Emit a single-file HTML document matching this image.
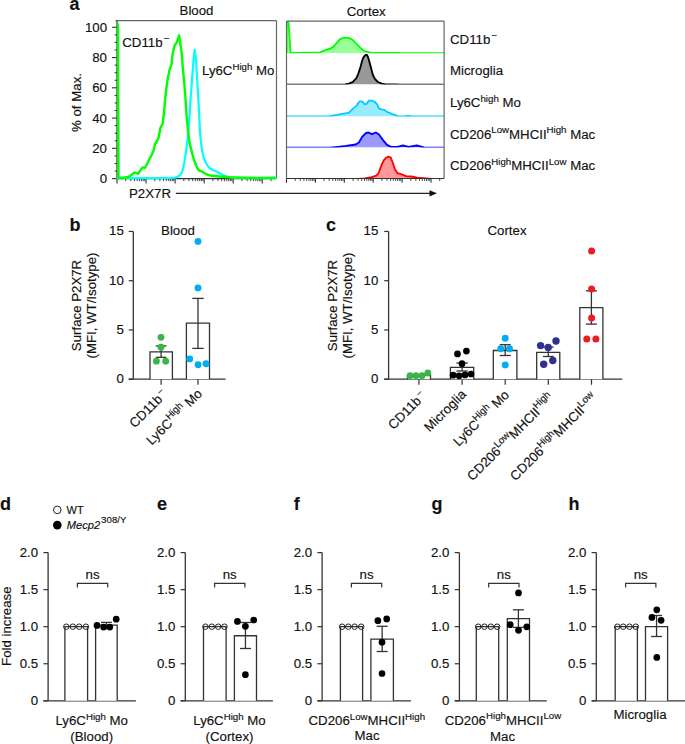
<!DOCTYPE html>
<html><head><meta charset="utf-8"><style>
html,body{margin:0;padding:0;background:#fff;width:685px;height:744px;overflow:hidden;}
svg{display:block;font-family:"Liberation Sans", sans-serif;}
text{fill:#111;stroke:#111;stroke-width:0.15px;}
</style></head><body>
<svg width="685" height="744" viewBox="0 0 685 744" font-family='"Liberation Sans", sans-serif' fill="#111"><text x="69.60" y="10.20" font-size="18" text-anchor="start" font-weight="bold" >a</text>
<line x1="115.50" y1="20.60" x2="276.50" y2="20.60" stroke="#666" stroke-width="1.2" />
<line x1="276.50" y1="20.60" x2="276.50" y2="178.60" stroke="#666" stroke-width="1.2" />
<line x1="117.00" y1="20.60" x2="117.00" y2="178.60" stroke="#333" stroke-width="1.2" />
<line x1="117.00" y1="178.60" x2="276.50" y2="178.60" stroke="#333" stroke-width="1.2" />
<line x1="112.00" y1="178.60" x2="117.00" y2="178.60" stroke="#333" stroke-width="1.1" />
<text x="107.00" y="183.20" font-size="13.25" text-anchor="end" font-weight="normal" >0</text>
<line x1="112.00" y1="148.34" x2="117.00" y2="148.34" stroke="#333" stroke-width="1.1" />
<text x="107.00" y="152.94" font-size="13.25" text-anchor="end" font-weight="normal" >20</text>
<line x1="112.00" y1="118.08" x2="117.00" y2="118.08" stroke="#333" stroke-width="1.1" />
<text x="107.00" y="122.68" font-size="13.25" text-anchor="end" font-weight="normal" >40</text>
<line x1="112.00" y1="87.82" x2="117.00" y2="87.82" stroke="#333" stroke-width="1.1" />
<text x="107.00" y="92.42" font-size="13.25" text-anchor="end" font-weight="normal" >60</text>
<line x1="112.00" y1="57.56" x2="117.00" y2="57.56" stroke="#333" stroke-width="1.1" />
<text x="107.00" y="62.16" font-size="13.25" text-anchor="end" font-weight="normal" >80</text>
<line x1="112.00" y1="27.30" x2="117.00" y2="27.30" stroke="#333" stroke-width="1.1" />
<text x="107.00" y="31.90" font-size="13.25" text-anchor="end" font-weight="normal" >100</text>
<line x1="114.60" y1="171.03" x2="117.00" y2="171.03" stroke="#333" stroke-width="1" />
<line x1="114.60" y1="163.47" x2="117.00" y2="163.47" stroke="#333" stroke-width="1" />
<line x1="114.60" y1="155.91" x2="117.00" y2="155.91" stroke="#333" stroke-width="1" />
<line x1="114.60" y1="140.78" x2="117.00" y2="140.78" stroke="#333" stroke-width="1" />
<line x1="114.60" y1="133.21" x2="117.00" y2="133.21" stroke="#333" stroke-width="1" />
<line x1="114.60" y1="125.64" x2="117.00" y2="125.64" stroke="#333" stroke-width="1" />
<line x1="114.60" y1="110.52" x2="117.00" y2="110.52" stroke="#333" stroke-width="1" />
<line x1="114.60" y1="102.95" x2="117.00" y2="102.95" stroke="#333" stroke-width="1" />
<line x1="114.60" y1="95.39" x2="117.00" y2="95.39" stroke="#333" stroke-width="1" />
<line x1="114.60" y1="80.25" x2="117.00" y2="80.25" stroke="#333" stroke-width="1" />
<line x1="114.60" y1="72.69" x2="117.00" y2="72.69" stroke="#333" stroke-width="1" />
<line x1="114.60" y1="65.12" x2="117.00" y2="65.12" stroke="#333" stroke-width="1" />
<line x1="114.60" y1="50.00" x2="117.00" y2="50.00" stroke="#333" stroke-width="1" />
<line x1="114.60" y1="42.43" x2="117.00" y2="42.43" stroke="#333" stroke-width="1" />
<line x1="114.60" y1="34.87" x2="117.00" y2="34.87" stroke="#333" stroke-width="1" />
<line x1="117.00" y1="178.60" x2="117.00" y2="183.40" stroke="#333" stroke-width="1.1" />
<line x1="125.74" y1="178.60" x2="125.74" y2="181.20" stroke="#333" stroke-width="0.9" />
<line x1="130.86" y1="178.60" x2="130.86" y2="181.20" stroke="#333" stroke-width="0.9" />
<line x1="134.49" y1="178.60" x2="134.49" y2="181.20" stroke="#333" stroke-width="0.9" />
<line x1="137.31" y1="178.60" x2="137.31" y2="181.20" stroke="#333" stroke-width="0.9" />
<line x1="139.61" y1="178.60" x2="139.61" y2="181.20" stroke="#333" stroke-width="0.9" />
<line x1="141.55" y1="178.60" x2="141.55" y2="181.20" stroke="#333" stroke-width="0.9" />
<line x1="143.23" y1="178.60" x2="143.23" y2="181.20" stroke="#333" stroke-width="0.9" />
<line x1="144.72" y1="178.60" x2="144.72" y2="181.20" stroke="#333" stroke-width="0.9" />
<line x1="146.05" y1="178.60" x2="146.05" y2="183.40" stroke="#333" stroke-width="1.1" />
<line x1="154.79" y1="178.60" x2="154.79" y2="181.20" stroke="#333" stroke-width="0.9" />
<line x1="159.91" y1="178.60" x2="159.91" y2="181.20" stroke="#333" stroke-width="0.9" />
<line x1="163.54" y1="178.60" x2="163.54" y2="181.20" stroke="#333" stroke-width="0.9" />
<line x1="166.36" y1="178.60" x2="166.36" y2="181.20" stroke="#333" stroke-width="0.9" />
<line x1="168.66" y1="178.60" x2="168.66" y2="181.20" stroke="#333" stroke-width="0.9" />
<line x1="170.60" y1="178.60" x2="170.60" y2="181.20" stroke="#333" stroke-width="0.9" />
<line x1="172.28" y1="178.60" x2="172.28" y2="181.20" stroke="#333" stroke-width="0.9" />
<line x1="173.77" y1="178.60" x2="173.77" y2="181.20" stroke="#333" stroke-width="0.9" />
<line x1="175.10" y1="178.60" x2="175.10" y2="183.40" stroke="#333" stroke-width="1.1" />
<line x1="183.84" y1="178.60" x2="183.84" y2="181.20" stroke="#333" stroke-width="0.9" />
<line x1="188.96" y1="178.60" x2="188.96" y2="181.20" stroke="#333" stroke-width="0.9" />
<line x1="192.59" y1="178.60" x2="192.59" y2="181.20" stroke="#333" stroke-width="0.9" />
<line x1="195.41" y1="178.60" x2="195.41" y2="181.20" stroke="#333" stroke-width="0.9" />
<line x1="197.71" y1="178.60" x2="197.71" y2="181.20" stroke="#333" stroke-width="0.9" />
<line x1="199.65" y1="178.60" x2="199.65" y2="181.20" stroke="#333" stroke-width="0.9" />
<line x1="201.33" y1="178.60" x2="201.33" y2="181.20" stroke="#333" stroke-width="0.9" />
<line x1="202.82" y1="178.60" x2="202.82" y2="181.20" stroke="#333" stroke-width="0.9" />
<line x1="204.15" y1="178.60" x2="204.15" y2="183.40" stroke="#333" stroke-width="1.1" />
<line x1="212.89" y1="178.60" x2="212.89" y2="181.20" stroke="#333" stroke-width="0.9" />
<line x1="218.01" y1="178.60" x2="218.01" y2="181.20" stroke="#333" stroke-width="0.9" />
<line x1="221.64" y1="178.60" x2="221.64" y2="181.20" stroke="#333" stroke-width="0.9" />
<line x1="224.46" y1="178.60" x2="224.46" y2="181.20" stroke="#333" stroke-width="0.9" />
<line x1="226.76" y1="178.60" x2="226.76" y2="181.20" stroke="#333" stroke-width="0.9" />
<line x1="228.70" y1="178.60" x2="228.70" y2="181.20" stroke="#333" stroke-width="0.9" />
<line x1="230.38" y1="178.60" x2="230.38" y2="181.20" stroke="#333" stroke-width="0.9" />
<line x1="231.87" y1="178.60" x2="231.87" y2="181.20" stroke="#333" stroke-width="0.9" />
<line x1="233.20" y1="178.60" x2="233.20" y2="183.40" stroke="#333" stroke-width="1.1" />
<line x1="241.94" y1="178.60" x2="241.94" y2="181.20" stroke="#333" stroke-width="0.9" />
<line x1="247.06" y1="178.60" x2="247.06" y2="181.20" stroke="#333" stroke-width="0.9" />
<line x1="250.69" y1="178.60" x2="250.69" y2="181.20" stroke="#333" stroke-width="0.9" />
<line x1="253.51" y1="178.60" x2="253.51" y2="181.20" stroke="#333" stroke-width="0.9" />
<line x1="255.81" y1="178.60" x2="255.81" y2="181.20" stroke="#333" stroke-width="0.9" />
<line x1="257.75" y1="178.60" x2="257.75" y2="181.20" stroke="#333" stroke-width="0.9" />
<line x1="259.43" y1="178.60" x2="259.43" y2="181.20" stroke="#333" stroke-width="0.9" />
<line x1="260.92" y1="178.60" x2="260.92" y2="181.20" stroke="#333" stroke-width="0.9" />
<line x1="262.25" y1="178.60" x2="262.25" y2="183.40" stroke="#333" stroke-width="1.1" />
<line x1="270.99" y1="178.60" x2="270.99" y2="181.20" stroke="#333" stroke-width="0.9" />
<text x="81.3" y="102.5" font-size="13.25" text-anchor="middle" transform="rotate(-90 81.3 102.5)">% of Max.</text>
<text x="196.50" y="15.40" font-size="13.25" text-anchor="middle" font-weight="normal" >Blood</text>
<text x="122.30" y="46.50" font-size="13.25" text-anchor="start" font-weight="normal" >CD11b<tspan font-size="9.7" dy="-4.8" dx="1.2">&#8722;</tspan></text>
<text x="202.00" y="75.40" font-size="13.25" text-anchor="start" font-weight="normal" >Ly6C<tspan font-size="9.7" dy="-5.5">High</tspan><tspan dy="5.5"> Mo</tspan></text>
<text x="129.00" y="197.80" font-size="13.25" text-anchor="start" font-weight="normal" >P2X7R</text>
<line x1="175.80" y1="193.30" x2="430.00" y2="193.30" stroke="#222" stroke-width="1.2" />
<path d="M429.5,190.2 L437,193.3 L429.5,196.4 Z" fill="#111"/>
<path d="M117.50,178.20 L160.00,178.20 L170.00,178.00 L175.00,177.60 L178.00,176.60 L180.00,175.00 L182.00,172.40 L183.50,167.00 L185.00,158.40 L186.50,148.00 L188.20,135.00 L189.60,115.00 L190.50,100.00 L192.00,80.00 L193.50,60.00 L194.70,49.80 L196.00,60.00 L197.20,80.00 L198.40,100.00 L199.20,115.00 L200.20,135.00 L201.30,145.00 L202.50,152.60 L204.00,158.50 L206.00,163.00 L209.00,167.50 L212.40,170.00 L217.10,171.80 L220.00,173.50 L224.00,175.50 L228.00,177.00 L235.00,177.80 L250.00,178.20 L276.00,178.20" stroke="#00ffff" stroke-width="2.2" fill="none" stroke-linejoin="round" stroke-linecap="round" />
<path d="M118.00,24.50 L118.50,177.50 L122.00,178.00 L127.00,177.30 L130.00,176.00 L132.00,174.50 L134.00,172.60 L136.00,173.00 L138.00,173.80 L140.00,171.00 L142.50,167.40 L145.00,167.80 L147.80,162.50 L150.00,158.00 L151.60,155.00 L153.80,150.00 L155.00,144.00 L156.50,142.00 L158.50,138.00 L160.40,128.00 L162.80,123.40 L164.00,112.00 L165.10,100.00 L166.20,90.00 L167.40,80.70 L169.50,70.00 L171.50,64.40 L172.50,55.00 L174.50,45.70 L177.00,42.00 L179.10,35.30 L180.30,43.40 L182.00,55.00 L182.50,64.00 L184.00,80.00 L185.60,100.00 L186.50,115.00 L188.50,135.00 L190.00,145.00 L192.00,152.60 L194.00,160.00 L197.20,167.80 L199.00,170.50 L201.90,171.30 L204.00,173.00 L207.80,174.80 L212.00,175.80 L219.40,176.50 L230.00,177.30 L245.00,177.80 L260.00,178.00 L275.00,177.60" stroke="#00ff00" stroke-width="2.4" fill="none" stroke-linejoin="round" stroke-linecap="round" />
<defs><clipPath id="row0"><rect x="286.5" y="21.10" width="157.60" height="32.10"/></clipPath><clipPath id="row1"><rect x="286.5" y="53.20" width="157.60" height="31.35"/></clipPath><clipPath id="row2"><rect x="286.5" y="84.55" width="157.60" height="31.95"/></clipPath><clipPath id="row3"><rect x="286.5" y="116.50" width="157.60" height="31.05"/></clipPath><clipPath id="row4"><rect x="286.5" y="147.55" width="157.60" height="31.45"/></clipPath></defs>
<g clip-path="url(#row0)"><path d="M286.50,53.20 L286.50,21.80 L288.50,22.30 L290.60,52.95 L309.00,52.70 L319.50,52.60 L323.40,50.90 L330.00,48.60 L333.30,46.90 L336.60,43.00 L339.80,39.40 L343.10,37.90 L349.00,37.90 L352.30,39.70 L356.30,43.60 L360.20,47.60 L364.10,50.90 L369.40,52.40 L373.00,52.95 L399.00,52.95 L401.00,53.20 L444.10,53.20 L444.10,53.20 Z" fill="#99ff99" stroke="none"/><path d="M286.50,53.20 L286.50,21.80 L288.50,22.30 L290.60,52.95 L309.00,52.70 L319.50,52.60 L323.40,50.90 L330.00,48.60 L333.30,46.90 L336.60,43.00 L339.80,39.40 L343.10,37.90 L349.00,37.90 L352.30,39.70 L356.30,43.60 L360.20,47.60 L364.10,50.90 L369.40,52.40 L373.00,52.95 L399.00,52.95 L401.00,53.20 L444.10,53.20 L444.10,53.20" fill="none" stroke="#00ff00" stroke-width="1.85" stroke-linejoin="round"/></g>
<g clip-path="url(#row1)"><path d="M286.50,84.55 L340.00,84.55 L345.00,84.40 L348.90,83.60 L352.90,81.90 L356.20,78.40 L358.10,74.30 L360.10,68.40 L361.80,61.90 L363.40,57.30 L365.40,55.00 L367.00,55.00 L368.30,57.90 L369.60,62.50 L371.30,69.10 L372.90,75.00 L374.90,78.90 L377.90,82.00 L381.80,83.70 L385.70,84.30 L395.00,84.50 L400.00,84.55 L444.10,84.55 Z" fill="#999999" stroke="none"/><path d="M286.50,84.55 L340.00,84.55 L345.00,84.40 L348.90,83.60 L352.90,81.90 L356.20,78.40 L358.10,74.30 L360.10,68.40 L361.80,61.90 L363.40,57.30 L365.40,55.00 L367.00,55.00 L368.30,57.90 L369.60,62.50 L371.30,69.10 L372.90,75.00 L374.90,78.90 L377.90,82.00 L381.80,83.70 L385.70,84.30 L395.00,84.50 L400.00,84.55 L444.10,84.55" fill="none" stroke="#000" stroke-width="1.85" stroke-linejoin="round"/></g>
<g clip-path="url(#row2)"><path d="M286.50,116.50 L325.00,116.50 L330.00,116.20 L337.00,114.90 L345.20,113.30 L348.70,112.90 L353.40,108.40 L356.30,106.10 L358.60,102.60 L359.80,101.40 L362.10,101.40 L364.50,104.10 L366.20,104.10 L369.10,100.60 L372.00,100.60 L375.00,102.00 L376.70,103.80 L379.00,108.40 L381.40,109.30 L383.70,109.60 L387.20,112.00 L391.90,113.90 L397.70,116.20 L403.00,116.50 L408.00,115.80 L413.00,116.50 L444.10,116.50 Z" fill="#99ebff" stroke="none"/><path d="M286.50,116.50 L325.00,116.50 L330.00,116.20 L337.00,114.90 L345.20,113.30 L348.70,112.90 L353.40,108.40 L356.30,106.10 L358.60,102.60 L359.80,101.40 L362.10,101.40 L364.50,104.10 L366.20,104.10 L369.10,100.60 L372.00,100.60 L375.00,102.00 L376.70,103.80 L379.00,108.40 L381.40,109.30 L383.70,109.60 L387.20,112.00 L391.90,113.90 L397.70,116.20 L403.00,116.50 L408.00,115.80 L413.00,116.50 L444.10,116.50" fill="none" stroke="#00ccff" stroke-width="1.85" stroke-linejoin="round"/></g>
<g clip-path="url(#row3)"><path d="M286.50,147.55 L325.00,147.55 L330.00,147.60 L338.00,146.80 L346.00,145.90 L355.70,144.50 L358.90,142.50 L362.10,136.90 L366.10,132.80 L368.50,132.50 L371.80,134.10 L375.80,132.50 L379.00,134.50 L383.00,140.10 L387.00,144.90 L391.00,146.80 L397.40,146.80 L403.00,145.50 L408.70,146.80 L416.70,145.50 L424.70,147.60 L428.00,147.55 L444.10,147.55 Z" fill="#9999ff" stroke="none"/><path d="M286.50,147.55 L325.00,147.55 L330.00,147.60 L338.00,146.80 L346.00,145.90 L355.70,144.50 L358.90,142.50 L362.10,136.90 L366.10,132.80 L368.50,132.50 L371.80,134.10 L375.80,132.50 L379.00,134.50 L383.00,140.10 L387.00,144.90 L391.00,146.80 L397.40,146.80 L403.00,145.50 L408.70,146.80 L416.70,145.50 L424.70,147.60 L428.00,147.55 L444.10,147.55" fill="none" stroke="#0000ff" stroke-width="1.85" stroke-linejoin="round"/></g>
<g clip-path="url(#row4)"><path d="M286.50,179.00 L358.00,179.00 L364.70,178.40 L371.70,177.20 L376.40,175.60 L378.70,173.00 L381.60,164.90 L383.90,160.20 L386.00,157.80 L388.00,156.70 L390.60,157.30 L392.70,162.50 L395.00,169.50 L397.40,173.00 L400.90,174.20 L406.70,176.30 L411.40,176.50 L417.20,177.70 L426.60,178.40 L432.00,179.00 L444.10,179.00 Z" fill="#ff9999" stroke="none"/><path d="M286.50,179.00 L358.00,179.00 L364.70,178.40 L371.70,177.20 L376.40,175.60 L378.70,173.00 L381.60,164.90 L383.90,160.20 L386.00,157.80 L388.00,156.70 L390.60,157.30 L392.70,162.50 L395.00,169.50 L397.40,173.00 L400.90,174.20 L406.70,176.30 L411.40,176.50 L417.20,177.70 L426.60,178.40 L432.00,179.00 L444.10,179.00" fill="none" stroke="#ff0000" stroke-width="1.85" stroke-linejoin="round"/></g>
<line x1="286.50" y1="21.10" x2="444.10" y2="21.10" stroke="#666" stroke-width="1.2" />
<line x1="444.10" y1="21.10" x2="444.10" y2="178.50" stroke="#666" stroke-width="1.2" />
<line x1="286.50" y1="21.10" x2="286.50" y2="178.50" stroke="#666" stroke-width="1.2" />
<line x1="286.50" y1="178.50" x2="444.10" y2="178.50" stroke="#333" stroke-width="1.2" />
<line x1="286.50" y1="178.50" x2="286.50" y2="182.80" stroke="#333" stroke-width="1.1" />
<line x1="295.20" y1="178.50" x2="295.20" y2="180.90" stroke="#333" stroke-width="0.9" />
<line x1="300.29" y1="178.50" x2="300.29" y2="180.90" stroke="#333" stroke-width="0.9" />
<line x1="303.90" y1="178.50" x2="303.90" y2="180.90" stroke="#333" stroke-width="0.9" />
<line x1="306.70" y1="178.50" x2="306.70" y2="180.90" stroke="#333" stroke-width="0.9" />
<line x1="308.99" y1="178.50" x2="308.99" y2="180.90" stroke="#333" stroke-width="0.9" />
<line x1="310.92" y1="178.50" x2="310.92" y2="180.90" stroke="#333" stroke-width="0.9" />
<line x1="312.60" y1="178.50" x2="312.60" y2="180.90" stroke="#333" stroke-width="0.9" />
<line x1="314.08" y1="178.50" x2="314.08" y2="180.90" stroke="#333" stroke-width="0.9" />
<line x1="315.40" y1="178.50" x2="315.40" y2="182.80" stroke="#333" stroke-width="1.1" />
<line x1="324.10" y1="178.50" x2="324.10" y2="180.90" stroke="#333" stroke-width="0.9" />
<line x1="329.19" y1="178.50" x2="329.19" y2="180.90" stroke="#333" stroke-width="0.9" />
<line x1="332.80" y1="178.50" x2="332.80" y2="180.90" stroke="#333" stroke-width="0.9" />
<line x1="335.60" y1="178.50" x2="335.60" y2="180.90" stroke="#333" stroke-width="0.9" />
<line x1="337.89" y1="178.50" x2="337.89" y2="180.90" stroke="#333" stroke-width="0.9" />
<line x1="339.82" y1="178.50" x2="339.82" y2="180.90" stroke="#333" stroke-width="0.9" />
<line x1="341.50" y1="178.50" x2="341.50" y2="180.90" stroke="#333" stroke-width="0.9" />
<line x1="342.98" y1="178.50" x2="342.98" y2="180.90" stroke="#333" stroke-width="0.9" />
<line x1="344.30" y1="178.50" x2="344.30" y2="182.80" stroke="#333" stroke-width="1.1" />
<line x1="353.00" y1="178.50" x2="353.00" y2="180.90" stroke="#333" stroke-width="0.9" />
<line x1="358.09" y1="178.50" x2="358.09" y2="180.90" stroke="#333" stroke-width="0.9" />
<line x1="361.70" y1="178.50" x2="361.70" y2="180.90" stroke="#333" stroke-width="0.9" />
<line x1="364.50" y1="178.50" x2="364.50" y2="180.90" stroke="#333" stroke-width="0.9" />
<line x1="366.79" y1="178.50" x2="366.79" y2="180.90" stroke="#333" stroke-width="0.9" />
<line x1="368.72" y1="178.50" x2="368.72" y2="180.90" stroke="#333" stroke-width="0.9" />
<line x1="370.40" y1="178.50" x2="370.40" y2="180.90" stroke="#333" stroke-width="0.9" />
<line x1="371.88" y1="178.50" x2="371.88" y2="180.90" stroke="#333" stroke-width="0.9" />
<line x1="373.20" y1="178.50" x2="373.20" y2="182.80" stroke="#333" stroke-width="1.1" />
<line x1="381.90" y1="178.50" x2="381.90" y2="180.90" stroke="#333" stroke-width="0.9" />
<line x1="386.99" y1="178.50" x2="386.99" y2="180.90" stroke="#333" stroke-width="0.9" />
<line x1="390.60" y1="178.50" x2="390.60" y2="180.90" stroke="#333" stroke-width="0.9" />
<line x1="393.40" y1="178.50" x2="393.40" y2="180.90" stroke="#333" stroke-width="0.9" />
<line x1="395.69" y1="178.50" x2="395.69" y2="180.90" stroke="#333" stroke-width="0.9" />
<line x1="397.62" y1="178.50" x2="397.62" y2="180.90" stroke="#333" stroke-width="0.9" />
<line x1="399.30" y1="178.50" x2="399.30" y2="180.90" stroke="#333" stroke-width="0.9" />
<line x1="400.78" y1="178.50" x2="400.78" y2="180.90" stroke="#333" stroke-width="0.9" />
<line x1="402.10" y1="178.50" x2="402.10" y2="182.80" stroke="#333" stroke-width="1.1" />
<line x1="410.80" y1="178.50" x2="410.80" y2="180.90" stroke="#333" stroke-width="0.9" />
<line x1="415.89" y1="178.50" x2="415.89" y2="180.90" stroke="#333" stroke-width="0.9" />
<line x1="419.50" y1="178.50" x2="419.50" y2="180.90" stroke="#333" stroke-width="0.9" />
<line x1="422.30" y1="178.50" x2="422.30" y2="180.90" stroke="#333" stroke-width="0.9" />
<line x1="424.59" y1="178.50" x2="424.59" y2="180.90" stroke="#333" stroke-width="0.9" />
<line x1="426.52" y1="178.50" x2="426.52" y2="180.90" stroke="#333" stroke-width="0.9" />
<line x1="428.20" y1="178.50" x2="428.20" y2="180.90" stroke="#333" stroke-width="0.9" />
<line x1="429.68" y1="178.50" x2="429.68" y2="180.90" stroke="#333" stroke-width="0.9" />
<line x1="431.00" y1="178.50" x2="431.00" y2="182.80" stroke="#333" stroke-width="1.1" />
<line x1="439.70" y1="178.50" x2="439.70" y2="180.90" stroke="#333" stroke-width="0.9" />
<text x="366.20" y="15.50" font-size="13.25" text-anchor="middle" font-weight="normal" >Cortex</text>
<text x="450.00" y="43.60" font-size="13.25" text-anchor="start" font-weight="normal" >CD11b<tspan font-size="9.7" dy="-4.8" dx="1.2">&#8722;</tspan></text>
<text x="450.00" y="75.40" font-size="13.25" text-anchor="start" font-weight="normal" >Microglia</text>
<text x="450.00" y="107.00" font-size="13.25" text-anchor="start" font-weight="normal" >Ly6C<tspan font-size="9.7" dy="-5.5">high</tspan><tspan dy="5.5"> Mo</tspan></text>
<text x="450.00" y="138.70" font-size="13.25" text-anchor="start" font-weight="normal" >CD206<tspan font-size="9.7" dy="-5.5">Low</tspan><tspan dy="5.5">MHCII</tspan><tspan font-size="9.7" dy="-5.5">High</tspan><tspan dy="5.5"> Mac</tspan></text>
<text x="450.00" y="170.30" font-size="13.25" text-anchor="start" font-weight="normal" >CD206<tspan font-size="9.7" dy="-5.5">High</tspan><tspan dy="5.5">MHCII</tspan><tspan font-size="9.7" dy="-5.5">Low</tspan><tspan dy="5.5"> Mac</tspan></text>
<text x="69.50" y="231.00" font-size="18" text-anchor="start" font-weight="bold" >b</text>
<line x1="133.30" y1="231.45" x2="133.30" y2="379.20" stroke="#333" stroke-width="1.3" />
<line x1="128.70" y1="379.20" x2="225.60" y2="379.20" stroke="#333" stroke-width="1.3" />
<line x1="128.70" y1="379.20" x2="133.30" y2="379.20" stroke="#333" stroke-width="1.2" />
<text x="123.80" y="383.10" font-size="13.25" text-anchor="end" font-weight="normal" >0</text>
<line x1="128.70" y1="329.95" x2="133.30" y2="329.95" stroke="#333" stroke-width="1.2" />
<text x="123.80" y="333.85" font-size="13.25" text-anchor="end" font-weight="normal" >5</text>
<line x1="128.70" y1="280.70" x2="133.30" y2="280.70" stroke="#333" stroke-width="1.2" />
<text x="123.80" y="284.60" font-size="13.25" text-anchor="end" font-weight="normal" >10</text>
<line x1="128.70" y1="231.45" x2="133.30" y2="231.45" stroke="#333" stroke-width="1.2" />
<text x="123.80" y="235.35" font-size="13.25" text-anchor="end" font-weight="normal" >15</text>
<text font-size="13.25" text-anchor="middle" transform="translate(81.2 305.5) rotate(-90)"><tspan x="0" y="0">Surface P2X7R</tspan><tspan x="0" y="15.3">(MFI, WT/Isotype)</tspan></text>
<text x="178.00" y="235.00" font-size="13.25" text-anchor="middle" font-weight="normal" >Blood</text>
<path d="M150.00,379.20 L150.00,351.90 L172.40,351.90 L172.40,379.20" fill="#fff" stroke="#333" stroke-width="1.3"/>
<path d="M186.40,379.20 L186.40,323.20 L209.50,323.20 L209.50,379.20" fill="#fff" stroke="#333" stroke-width="1.3"/>
<line x1="161.10" y1="345.90" x2="161.10" y2="357.30" stroke="#333" stroke-width="1.3" />
<line x1="155.80" y1="345.90" x2="166.40" y2="345.90" stroke="#333" stroke-width="1.3" />
<line x1="155.80" y1="357.30" x2="166.40" y2="357.30" stroke="#333" stroke-width="1.3" />
<line x1="198.00" y1="298.40" x2="198.00" y2="348.40" stroke="#333" stroke-width="1.3" />
<line x1="192.30" y1="298.40" x2="203.70" y2="298.40" stroke="#333" stroke-width="1.3" />
<line x1="192.30" y1="348.40" x2="203.70" y2="348.40" stroke="#333" stroke-width="1.3" />
<line x1="161.10" y1="379.20" x2="161.10" y2="384.80" stroke="#333" stroke-width="1.2" />
<line x1="198.00" y1="379.20" x2="198.00" y2="384.80" stroke="#333" stroke-width="1.2" />
<circle cx="161.00" cy="337.30" r="3.4" fill="#39b54a" stroke="none" stroke-width="0"/>
<circle cx="161.00" cy="347.20" r="3.4" fill="#39b54a" stroke="none" stroke-width="0"/>
<circle cx="156.40" cy="361.20" r="3.4" fill="#39b54a" stroke="none" stroke-width="0"/>
<circle cx="165.70" cy="361.20" r="3.4" fill="#39b54a" stroke="none" stroke-width="0"/>
<circle cx="198.00" cy="241.40" r="3.45" fill="#00aeef" stroke="none" stroke-width="0"/>
<circle cx="198.00" cy="287.90" r="3.45" fill="#00aeef" stroke="none" stroke-width="0"/>
<circle cx="189.70" cy="358.90" r="3.45" fill="#00aeef" stroke="none" stroke-width="0"/>
<circle cx="198.10" cy="364.70" r="3.45" fill="#00aeef" stroke="none" stroke-width="0"/>
<circle cx="206.00" cy="363.80" r="3.45" fill="#00aeef" stroke="none" stroke-width="0"/>
<text font-size="13.25" text-anchor="end" transform="translate(167.95 395.25) rotate(-45)">CD11b<tspan font-size="9.7" dy="-4.8" dx="1.2">&#8722;</tspan></text>
<text font-size="13.25" text-anchor="end" transform="translate(203.00 394.50) rotate(-45)">Ly6C<tspan font-size="9.7" dy="-5.5">High</tspan><tspan dy="5.5"> Mo</tspan></text>
<text x="326.00" y="231.00" font-size="18" text-anchor="start" font-weight="bold" >c</text>
<line x1="388.60" y1="231.45" x2="388.60" y2="379.20" stroke="#333" stroke-width="1.3" />
<line x1="384.20" y1="379.20" x2="622.30" y2="379.20" stroke="#333" stroke-width="1.3" />
<line x1="384.20" y1="379.20" x2="388.60" y2="379.20" stroke="#333" stroke-width="1.2" />
<text x="378.30" y="383.10" font-size="13.25" text-anchor="end" font-weight="normal" >0</text>
<line x1="384.20" y1="329.95" x2="388.60" y2="329.95" stroke="#333" stroke-width="1.2" />
<text x="378.30" y="333.85" font-size="13.25" text-anchor="end" font-weight="normal" >5</text>
<line x1="384.20" y1="280.70" x2="388.60" y2="280.70" stroke="#333" stroke-width="1.2" />
<text x="378.30" y="284.60" font-size="13.25" text-anchor="end" font-weight="normal" >10</text>
<line x1="384.20" y1="231.45" x2="388.60" y2="231.45" stroke="#333" stroke-width="1.2" />
<text x="378.30" y="235.35" font-size="13.25" text-anchor="end" font-weight="normal" >15</text>
<text font-size="13.25" text-anchor="middle" transform="translate(337.2 305.5) rotate(-90)"><tspan x="0" y="0">Surface P2X7R</tspan><tspan x="0" y="15.3">(MFI, WT/Isotype)</tspan></text>
<text x="507.00" y="234.60" font-size="13.25" text-anchor="middle" font-weight="normal" >Cortex</text>
<path d="M407.50,379.20 L407.50,375.30 L430.50,375.30 L430.50,379.20" fill="#fff" stroke="#333" stroke-width="1.3"/>
<path d="M450.40,379.20 L450.40,367.40 L473.70,367.40 L473.70,379.20" fill="#fff" stroke="#333" stroke-width="1.3"/>
<path d="M493.30,379.20 L493.30,350.50 L516.90,350.50 L516.90,379.20" fill="#fff" stroke="#333" stroke-width="1.3"/>
<path d="M536.70,379.20 L536.70,352.30 L559.80,352.30 L559.80,379.20" fill="#fff" stroke="#333" stroke-width="1.3"/>
<path d="M579.80,379.20 L579.80,307.70 L602.90,307.70 L602.90,379.20" fill="#fff" stroke="#333" stroke-width="1.3"/>
<line x1="462.10" y1="363.00" x2="462.10" y2="371.00" stroke="#333" stroke-width="1.3" />
<line x1="456.40" y1="363.00" x2="467.80" y2="363.00" stroke="#333" stroke-width="1.3" />
<line x1="456.40" y1="371.00" x2="467.80" y2="371.00" stroke="#333" stroke-width="1.3" />
<line x1="505.20" y1="344.70" x2="505.20" y2="355.50" stroke="#333" stroke-width="1.3" />
<line x1="499.70" y1="344.70" x2="510.70" y2="344.70" stroke="#333" stroke-width="1.3" />
<line x1="499.70" y1="355.50" x2="510.70" y2="355.50" stroke="#333" stroke-width="1.3" />
<line x1="548.30" y1="347.10" x2="548.30" y2="356.50" stroke="#333" stroke-width="1.3" />
<line x1="543.00" y1="347.10" x2="553.60" y2="347.10" stroke="#333" stroke-width="1.3" />
<line x1="543.00" y1="356.50" x2="553.60" y2="356.50" stroke="#333" stroke-width="1.3" />
<line x1="591.40" y1="290.80" x2="591.40" y2="324.10" stroke="#333" stroke-width="1.3" />
<line x1="585.90" y1="290.80" x2="596.90" y2="290.80" stroke="#333" stroke-width="1.3" />
<line x1="585.90" y1="324.10" x2="596.90" y2="324.10" stroke="#333" stroke-width="1.3" />
<line x1="418.90" y1="379.20" x2="418.90" y2="384.80" stroke="#333" stroke-width="1.2" />
<line x1="462.10" y1="379.20" x2="462.10" y2="384.80" stroke="#333" stroke-width="1.2" />
<line x1="505.20" y1="379.20" x2="505.20" y2="384.80" stroke="#333" stroke-width="1.2" />
<line x1="548.30" y1="379.20" x2="548.30" y2="384.80" stroke="#333" stroke-width="1.2" />
<line x1="591.50" y1="379.20" x2="591.50" y2="384.80" stroke="#333" stroke-width="1.2" />
<circle cx="410.10" cy="375.70" r="3.4" fill="#39b54a" stroke="none" stroke-width="0"/>
<circle cx="415.90" cy="375.70" r="3.4" fill="#39b54a" stroke="none" stroke-width="0"/>
<circle cx="422.00" cy="375.70" r="3.4" fill="#39b54a" stroke="none" stroke-width="0"/>
<circle cx="427.80" cy="373.00" r="3.4" fill="#39b54a" stroke="none" stroke-width="0"/>
<circle cx="457.50" cy="353.90" r="3.35" fill="#000" stroke="none" stroke-width="0"/>
<circle cx="466.40" cy="351.10" r="3.35" fill="#000" stroke="none" stroke-width="0"/>
<circle cx="462.00" cy="363.70" r="3.35" fill="#000" stroke="none" stroke-width="0"/>
<circle cx="453.10" cy="375.20" r="3.35" fill="#000" stroke="none" stroke-width="0"/>
<circle cx="459.10" cy="375.80" r="3.35" fill="#000" stroke="none" stroke-width="0"/>
<circle cx="465.00" cy="374.90" r="3.35" fill="#000" stroke="none" stroke-width="0"/>
<circle cx="471.00" cy="374.00" r="3.35" fill="#000" stroke="none" stroke-width="0"/>
<circle cx="505.20" cy="338.30" r="3.45" fill="#00aeef" stroke="none" stroke-width="0"/>
<circle cx="500.70" cy="348.80" r="3.45" fill="#00aeef" stroke="none" stroke-width="0"/>
<circle cx="509.50" cy="348.80" r="3.45" fill="#00aeef" stroke="none" stroke-width="0"/>
<circle cx="505.20" cy="364.90" r="3.45" fill="#00aeef" stroke="none" stroke-width="0"/>
<circle cx="540.60" cy="345.60" r="3.7" fill="#2e3192" stroke="none" stroke-width="0"/>
<circle cx="548.20" cy="347.40" r="3.7" fill="#2e3192" stroke="none" stroke-width="0"/>
<circle cx="556.00" cy="341.00" r="3.7" fill="#2e3192" stroke="none" stroke-width="0"/>
<circle cx="552.80" cy="360.50" r="3.7" fill="#2e3192" stroke="none" stroke-width="0"/>
<circle cx="543.70" cy="364.30" r="3.7" fill="#2e3192" stroke="none" stroke-width="0"/>
<circle cx="591.60" cy="251.00" r="3.5" fill="#ed1c24" stroke="none" stroke-width="0"/>
<circle cx="591.60" cy="289.00" r="3.5" fill="#ed1c24" stroke="none" stroke-width="0"/>
<circle cx="591.60" cy="318.00" r="3.5" fill="#ed1c24" stroke="none" stroke-width="0"/>
<circle cx="586.80" cy="339.10" r="3.5" fill="#ed1c24" stroke="none" stroke-width="0"/>
<circle cx="595.90" cy="339.10" r="3.5" fill="#ed1c24" stroke="none" stroke-width="0"/>
<text font-size="13.25" text-anchor="end" transform="translate(426.85 396.85) rotate(-45)">CD11b<tspan font-size="9.7" dy="-4.8" dx="1.2">&#8722;</tspan></text>
<text font-size="13.25" text-anchor="end" transform="translate(467.00 395.10) rotate(-45)">Microglia</text>
<text font-size="13.25" text-anchor="end" transform="translate(509.90 395.80) rotate(-45)">Ly6C<tspan font-size="9.7" dy="-5.5">High</tspan><tspan dy="5.5"> Mo</tspan></text>
<text font-size="13.25" text-anchor="end" transform="translate(554.80 399.00) rotate(-45)">CD206<tspan font-size="9.7" dy="-5.5">Low</tspan><tspan dy="5.5">MHCII</tspan><tspan font-size="9.7" dy="-5.5">High</tspan></text>
<text font-size="13.25" text-anchor="end" transform="translate(597.80 399.00) rotate(-45)">CD206<tspan font-size="9.7" dy="-5.5">High</tspan><tspan dy="5.5">MHCII</tspan><tspan font-size="9.7" dy="-5.5">Low</tspan></text>
<text x="0.00" y="510.00" font-size="18" text-anchor="start" font-weight="bold" >d</text>
<line x1="48.10" y1="552.60" x2="48.10" y2="700.80" stroke="#333" stroke-width="1.3" />
<line x1="43.40" y1="700.80" x2="135.90" y2="700.80" stroke="#333" stroke-width="1.3" />
<line x1="43.40" y1="700.80" x2="48.10" y2="700.80" stroke="#333" stroke-width="1.2" />
<text x="38.10" y="705.40" font-size="13.25" text-anchor="end" font-weight="normal" >0</text>
<line x1="43.40" y1="663.75" x2="48.10" y2="663.75" stroke="#333" stroke-width="1.2" />
<text x="38.10" y="668.35" font-size="13.25" text-anchor="end" font-weight="normal" >0.5</text>
<line x1="43.40" y1="626.70" x2="48.10" y2="626.70" stroke="#333" stroke-width="1.2" />
<text x="38.10" y="631.30" font-size="13.25" text-anchor="end" font-weight="normal" >1.0</text>
<line x1="43.40" y1="589.65" x2="48.10" y2="589.65" stroke="#333" stroke-width="1.2" />
<text x="38.10" y="594.25" font-size="13.25" text-anchor="end" font-weight="normal" >1.5</text>
<line x1="43.40" y1="552.60" x2="48.10" y2="552.60" stroke="#333" stroke-width="1.2" />
<text x="38.10" y="557.20" font-size="13.25" text-anchor="end" font-weight="normal" >2.0</text>
<path d="M64.90,700.80 L64.90,626.70 L87.60,626.70 L87.60,700.80" fill="#fff" stroke="#333" stroke-width="1.3"/>
<path d="M95.60,700.80 L95.60,625.22 L117.20,625.22 L117.20,700.80" fill="#fff" stroke="#333" stroke-width="1.3"/>
<line x1="106.40" y1="622.40" x2="106.40" y2="628.50" stroke="#333" stroke-width="1.3" />
<line x1="100.90" y1="622.40" x2="111.90" y2="622.40" stroke="#333" stroke-width="1.3" />
<line x1="100.90" y1="628.50" x2="111.90" y2="628.50" stroke="#333" stroke-width="1.3" />
<circle cx="66.30" cy="626.70" r="2.75" fill="none" stroke="#222" stroke-width="1.0"/>
<circle cx="72.80" cy="626.70" r="2.75" fill="none" stroke="#222" stroke-width="1.0"/>
<circle cx="79.20" cy="626.70" r="2.75" fill="none" stroke="#222" stroke-width="1.0"/>
<circle cx="85.90" cy="626.70" r="2.75" fill="none" stroke="#222" stroke-width="1.0"/>
<circle cx="97.00" cy="625.40" r="3.35" fill="#000" stroke="none" stroke-width="0"/>
<circle cx="103.60" cy="627.10" r="3.35" fill="#000" stroke="none" stroke-width="0"/>
<circle cx="109.80" cy="627.10" r="3.35" fill="#000" stroke="none" stroke-width="0"/>
<circle cx="116.20" cy="619.20" r="3.35" fill="#000" stroke="none" stroke-width="0"/>
<path d="M77.40,587.4 L77.40,583.4 L107.70,583.4 L107.70,587.4" fill="none" stroke="#333" stroke-width="1.2"/>
<text x="92.55" y="579.30" font-size="13.25" text-anchor="middle" font-weight="normal" >ns</text>
<text x="157.00" y="509.90" font-size="18" text-anchor="start" font-weight="bold" >e</text>
<line x1="185.30" y1="552.60" x2="185.30" y2="700.80" stroke="#333" stroke-width="1.3" />
<line x1="180.60" y1="700.80" x2="272.90" y2="700.80" stroke="#333" stroke-width="1.3" />
<line x1="180.60" y1="700.80" x2="185.30" y2="700.80" stroke="#333" stroke-width="1.2" />
<text x="175.30" y="705.40" font-size="13.25" text-anchor="end" font-weight="normal" >0</text>
<line x1="180.60" y1="663.75" x2="185.30" y2="663.75" stroke="#333" stroke-width="1.2" />
<text x="175.30" y="668.35" font-size="13.25" text-anchor="end" font-weight="normal" >0.5</text>
<line x1="180.60" y1="626.70" x2="185.30" y2="626.70" stroke="#333" stroke-width="1.2" />
<text x="175.30" y="631.30" font-size="13.25" text-anchor="end" font-weight="normal" >1.0</text>
<line x1="180.60" y1="589.65" x2="185.30" y2="589.65" stroke="#333" stroke-width="1.2" />
<text x="175.30" y="594.25" font-size="13.25" text-anchor="end" font-weight="normal" >1.5</text>
<line x1="180.60" y1="552.60" x2="185.30" y2="552.60" stroke="#333" stroke-width="1.2" />
<text x="175.30" y="557.20" font-size="13.25" text-anchor="end" font-weight="normal" >2.0</text>
<path d="M203.50,700.80 L203.50,626.70 L226.10,626.70 L226.10,700.80" fill="#fff" stroke="#333" stroke-width="1.3"/>
<path d="M234.40,700.80 L234.40,635.74 L256.50,635.74 L256.50,700.80" fill="#fff" stroke="#333" stroke-width="1.3"/>
<line x1="245.45" y1="622.50" x2="245.45" y2="648.50" stroke="#333" stroke-width="1.3" />
<line x1="239.95" y1="622.50" x2="250.95" y2="622.50" stroke="#333" stroke-width="1.3" />
<line x1="239.95" y1="648.50" x2="250.95" y2="648.50" stroke="#333" stroke-width="1.3" />
<circle cx="205.40" cy="626.70" r="2.75" fill="none" stroke="#222" stroke-width="1.0"/>
<circle cx="211.80" cy="626.70" r="2.75" fill="none" stroke="#222" stroke-width="1.0"/>
<circle cx="218.20" cy="626.70" r="2.75" fill="none" stroke="#222" stroke-width="1.0"/>
<circle cx="224.40" cy="626.70" r="2.75" fill="none" stroke="#222" stroke-width="1.0"/>
<circle cx="237.40" cy="621.40" r="3.35" fill="#000" stroke="none" stroke-width="0"/>
<circle cx="253.70" cy="620.00" r="3.35" fill="#000" stroke="none" stroke-width="0"/>
<circle cx="245.40" cy="626.30" r="3.35" fill="#000" stroke="none" stroke-width="0"/>
<circle cx="245.40" cy="674.70" r="3.35" fill="#000" stroke="none" stroke-width="0"/>
<path d="M214.60,587.4 L214.60,583.4 L244.90,583.4 L244.90,587.4" fill="none" stroke="#333" stroke-width="1.2"/>
<text x="229.75" y="579.30" font-size="13.25" text-anchor="middle" font-weight="normal" >ns</text>
<text x="293.80" y="509.90" font-size="18" text-anchor="start" font-weight="bold" >f</text>
<line x1="322.10" y1="552.60" x2="322.10" y2="700.80" stroke="#333" stroke-width="1.3" />
<line x1="317.40" y1="700.80" x2="410.90" y2="700.80" stroke="#333" stroke-width="1.3" />
<line x1="317.40" y1="700.80" x2="322.10" y2="700.80" stroke="#333" stroke-width="1.2" />
<text x="312.10" y="705.40" font-size="13.25" text-anchor="end" font-weight="normal" >0</text>
<line x1="317.40" y1="663.75" x2="322.10" y2="663.75" stroke="#333" stroke-width="1.2" />
<text x="312.10" y="668.35" font-size="13.25" text-anchor="end" font-weight="normal" >0.5</text>
<line x1="317.40" y1="626.70" x2="322.10" y2="626.70" stroke="#333" stroke-width="1.2" />
<text x="312.10" y="631.30" font-size="13.25" text-anchor="end" font-weight="normal" >1.0</text>
<line x1="317.40" y1="589.65" x2="322.10" y2="589.65" stroke="#333" stroke-width="1.2" />
<text x="312.10" y="594.25" font-size="13.25" text-anchor="end" font-weight="normal" >1.5</text>
<line x1="317.40" y1="552.60" x2="322.10" y2="552.60" stroke="#333" stroke-width="1.2" />
<text x="312.10" y="557.20" font-size="13.25" text-anchor="end" font-weight="normal" >2.0</text>
<path d="M340.40,700.80 L340.40,626.70 L362.60,626.70 L362.60,700.80" fill="#fff" stroke="#333" stroke-width="1.3"/>
<path d="M370.90,700.80 L370.90,639.07 L393.40,639.07 L393.40,700.80" fill="#fff" stroke="#333" stroke-width="1.3"/>
<line x1="382.15" y1="626.30" x2="382.15" y2="651.50" stroke="#333" stroke-width="1.3" />
<line x1="376.65" y1="626.30" x2="387.65" y2="626.30" stroke="#333" stroke-width="1.3" />
<line x1="376.65" y1="651.50" x2="387.65" y2="651.50" stroke="#333" stroke-width="1.3" />
<circle cx="342.10" cy="626.70" r="2.75" fill="none" stroke="#222" stroke-width="1.0"/>
<circle cx="348.30" cy="626.70" r="2.75" fill="none" stroke="#222" stroke-width="1.0"/>
<circle cx="354.60" cy="626.70" r="2.75" fill="none" stroke="#222" stroke-width="1.0"/>
<circle cx="361.20" cy="626.70" r="2.75" fill="none" stroke="#222" stroke-width="1.0"/>
<circle cx="377.90" cy="620.70" r="3.35" fill="#000" stroke="none" stroke-width="0"/>
<circle cx="386.70" cy="618.90" r="3.35" fill="#000" stroke="none" stroke-width="0"/>
<circle cx="382.00" cy="642.20" r="3.35" fill="#000" stroke="none" stroke-width="0"/>
<circle cx="382.00" cy="673.50" r="3.35" fill="#000" stroke="none" stroke-width="0"/>
<path d="M351.40,587.4 L351.40,583.4 L381.70,583.4 L381.70,587.4" fill="none" stroke="#333" stroke-width="1.2"/>
<text x="366.55" y="579.30" font-size="13.25" text-anchor="middle" font-weight="normal" >ns</text>
<text x="431.50" y="510.00" font-size="18" text-anchor="start" font-weight="bold" >g</text>
<line x1="459.40" y1="552.60" x2="459.40" y2="700.80" stroke="#333" stroke-width="1.3" />
<line x1="454.70" y1="700.80" x2="546.80" y2="700.80" stroke="#333" stroke-width="1.3" />
<line x1="454.70" y1="700.80" x2="459.40" y2="700.80" stroke="#333" stroke-width="1.2" />
<text x="449.40" y="705.40" font-size="13.25" text-anchor="end" font-weight="normal" >0</text>
<line x1="454.70" y1="663.75" x2="459.40" y2="663.75" stroke="#333" stroke-width="1.2" />
<text x="449.40" y="668.35" font-size="13.25" text-anchor="end" font-weight="normal" >0.5</text>
<line x1="454.70" y1="626.70" x2="459.40" y2="626.70" stroke="#333" stroke-width="1.2" />
<text x="449.40" y="631.30" font-size="13.25" text-anchor="end" font-weight="normal" >1.0</text>
<line x1="454.70" y1="589.65" x2="459.40" y2="589.65" stroke="#333" stroke-width="1.2" />
<text x="449.40" y="594.25" font-size="13.25" text-anchor="end" font-weight="normal" >1.5</text>
<line x1="454.70" y1="552.60" x2="459.40" y2="552.60" stroke="#333" stroke-width="1.2" />
<text x="449.40" y="557.20" font-size="13.25" text-anchor="end" font-weight="normal" >2.0</text>
<path d="M476.30,700.80 L476.30,626.70 L498.70,626.70 L498.70,700.80" fill="#fff" stroke="#333" stroke-width="1.3"/>
<path d="M507.30,700.80 L507.30,618.55 L529.50,618.55 L529.50,700.80" fill="#fff" stroke="#333" stroke-width="1.3"/>
<line x1="518.40" y1="609.80" x2="518.40" y2="627.40" stroke="#333" stroke-width="1.3" />
<line x1="512.90" y1="609.80" x2="523.90" y2="609.80" stroke="#333" stroke-width="1.3" />
<line x1="512.90" y1="627.40" x2="523.90" y2="627.40" stroke="#333" stroke-width="1.3" />
<circle cx="478.20" cy="626.70" r="2.75" fill="none" stroke="#222" stroke-width="1.0"/>
<circle cx="484.40" cy="626.70" r="2.75" fill="none" stroke="#222" stroke-width="1.0"/>
<circle cx="490.80" cy="626.70" r="2.75" fill="none" stroke="#222" stroke-width="1.0"/>
<circle cx="497.10" cy="626.70" r="2.75" fill="none" stroke="#222" stroke-width="1.0"/>
<circle cx="518.50" cy="592.90" r="3.35" fill="#000" stroke="none" stroke-width="0"/>
<circle cx="510.20" cy="624.70" r="3.35" fill="#000" stroke="none" stroke-width="0"/>
<circle cx="526.80" cy="626.80" r="3.35" fill="#000" stroke="none" stroke-width="0"/>
<circle cx="518.50" cy="630.30" r="3.35" fill="#000" stroke="none" stroke-width="0"/>
<path d="M488.70,587.4 L488.70,583.4 L519.00,583.4 L519.00,587.4" fill="none" stroke="#333" stroke-width="1.2"/>
<text x="503.85" y="579.30" font-size="13.25" text-anchor="middle" font-weight="normal" >ns</text>
<text x="568.50" y="509.90" font-size="18" text-anchor="start" font-weight="bold" >h</text>
<line x1="596.30" y1="552.60" x2="596.30" y2="700.80" stroke="#333" stroke-width="1.3" />
<line x1="591.60" y1="700.80" x2="685.00" y2="700.80" stroke="#333" stroke-width="1.3" />
<line x1="591.60" y1="700.80" x2="596.30" y2="700.80" stroke="#333" stroke-width="1.2" />
<text x="586.30" y="705.40" font-size="13.25" text-anchor="end" font-weight="normal" >0</text>
<line x1="591.60" y1="663.75" x2="596.30" y2="663.75" stroke="#333" stroke-width="1.2" />
<text x="586.30" y="668.35" font-size="13.25" text-anchor="end" font-weight="normal" >0.5</text>
<line x1="591.60" y1="626.70" x2="596.30" y2="626.70" stroke="#333" stroke-width="1.2" />
<text x="586.30" y="631.30" font-size="13.25" text-anchor="end" font-weight="normal" >1.0</text>
<line x1="591.60" y1="589.65" x2="596.30" y2="589.65" stroke="#333" stroke-width="1.2" />
<text x="586.30" y="594.25" font-size="13.25" text-anchor="end" font-weight="normal" >1.5</text>
<line x1="591.60" y1="552.60" x2="596.30" y2="552.60" stroke="#333" stroke-width="1.2" />
<text x="586.30" y="557.20" font-size="13.25" text-anchor="end" font-weight="normal" >2.0</text>
<path d="M615.20,700.80 L615.20,626.70 L637.40,626.70 L637.40,700.80" fill="#fff" stroke="#333" stroke-width="1.3"/>
<path d="M645.50,700.80 L645.50,626.70 L667.60,626.70 L667.60,700.80" fill="#fff" stroke="#333" stroke-width="1.3"/>
<line x1="656.55" y1="615.50" x2="656.55" y2="636.50" stroke="#333" stroke-width="1.3" />
<line x1="651.05" y1="615.50" x2="662.05" y2="615.50" stroke="#333" stroke-width="1.3" />
<line x1="651.05" y1="636.50" x2="662.05" y2="636.50" stroke="#333" stroke-width="1.3" />
<circle cx="617.30" cy="626.70" r="2.75" fill="none" stroke="#222" stroke-width="1.0"/>
<circle cx="623.20" cy="626.70" r="2.75" fill="none" stroke="#222" stroke-width="1.0"/>
<circle cx="629.50" cy="626.70" r="2.75" fill="none" stroke="#222" stroke-width="1.0"/>
<circle cx="635.80" cy="626.70" r="2.75" fill="none" stroke="#222" stroke-width="1.0"/>
<circle cx="656.80" cy="609.80" r="3.35" fill="#000" stroke="none" stroke-width="0"/>
<circle cx="651.90" cy="617.40" r="3.35" fill="#000" stroke="none" stroke-width="0"/>
<circle cx="661.10" cy="620.30" r="3.35" fill="#000" stroke="none" stroke-width="0"/>
<circle cx="656.80" cy="657.40" r="3.35" fill="#000" stroke="none" stroke-width="0"/>
<path d="M625.60,587.4 L625.60,583.4 L655.90,583.4 L655.90,587.4" fill="none" stroke="#333" stroke-width="1.2"/>
<text x="640.75" y="579.30" font-size="13.25" text-anchor="middle" font-weight="normal" >ns</text>
<text x="10.7" y="626.2" font-size="13.25" text-anchor="middle" transform="rotate(-90 10.7 626.2)">Fold increase</text>
<circle cx="57.30" cy="509.90" r="3.8" fill="#fff" stroke="#222" stroke-width="1.0"/>
<circle cx="57.30" cy="525.10" r="4.3" fill="#000" stroke="none" stroke-width="0"/>
<text x="66.60" y="513.80" font-size="11" text-anchor="start" font-weight="normal" >WT</text>
<text x="66.80" y="528.50" font-size="11.1" text-anchor="start" font-weight="normal" ><tspan font-style="italic">Mecp2</tspan><tspan font-size="9.7" dy="-6" dx="1">308/Y</tspan></text>
<text x="91.70" y="725.40" font-size="13.25" text-anchor="middle" font-weight="normal" >Ly6C<tspan font-size="9.7" dy="-5.5">High</tspan><tspan dy="5.5"> Mo</tspan></text>
<text x="91.70" y="740.50" font-size="13.25" text-anchor="middle" font-weight="normal" >(Blood)</text>
<text x="229.50" y="725.40" font-size="13.25" text-anchor="middle" font-weight="normal" >Ly6C<tspan font-size="9.7" dy="-5.5">High</tspan><tspan dy="5.5"> Mo</tspan></text>
<text x="229.50" y="740.50" font-size="13.25" text-anchor="middle" font-weight="normal" >(Cortex)</text>
<text x="366.80" y="725.00" font-size="13.25" text-anchor="middle" font-weight="normal" >CD206<tspan font-size="9.7" dy="-5.5">Low</tspan><tspan dy="5.5">MHCII</tspan><tspan font-size="9.7" dy="-5.5">High</tspan></text>
<text x="367.10" y="740.40" font-size="13.25" text-anchor="middle" font-weight="normal" >Mac</text>
<text x="503.00" y="724.80" font-size="13.25" text-anchor="middle" font-weight="normal" >CD206<tspan font-size="9.7" dy="-5.5">High</tspan><tspan dy="5.5">MHCII</tspan><tspan font-size="9.7" dy="-5.5">Low</tspan></text>
<text x="502.60" y="740.60" font-size="13.25" text-anchor="middle" font-weight="normal" >Mac</text>
<text x="640.00" y="718.80" font-size="13.25" text-anchor="middle" font-weight="normal" >Microglia</text></svg>
</body></html>
